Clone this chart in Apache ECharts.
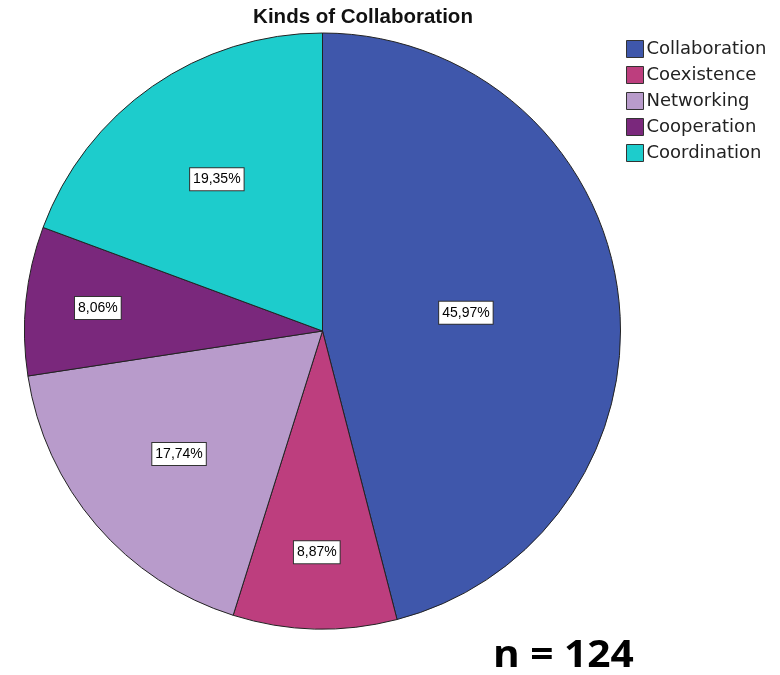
<!DOCTYPE html>
<html>
<head>
<meta charset="utf-8">
<title>Kinds of Collaboration</title>
<script src="https://cdn.jsdelivr.net/npm/echarts@6/dist/echarts.min.js"></script>
<style>
  html, body { margin: 0; padding: 0; background: #fff; }
  #main { width: 780px; height: 675px; }
</style>
</head>
<body>
<div id="main"></div>
<script>
// data (percent of n = 124)
const kinds = ['Collaboration', 'Coexistence', 'Networking', 'Cooperation', 'Coordination'];
const shares = [45.97, 8.87, 17.74, 8.06, 19.35];
const colors = ['#3f57ab', '#bd3e7e', '#b89bcb', '#7a287c', '#1dcccc'];

const R = 298;
const chart = echarts.init(document.getElementById('main'));

// SPSS pushes labels of small slices further out: fraction of radius from the share
function labelRadius(share) {
  return 1.0745 - 0.1566 * Math.log(share);
}

const total = shares.reduce((a, b) => a + b, 0);
let acc = 0;
const pieData = kinds.map((name, i) => {
  const mid = (acc + shares[i] / 2) / total * 2 * Math.PI; // clockwise from top
  acc += shares[i];
  const d = (labelRadius(shares[i]) - 0.5) * R; // 'inside' sits at R/2
  return {
    name: name,
    value: shares[i],
    itemStyle: { color: colors[i] },
    label: { offset: [d * Math.sin(mid), -d * Math.cos(mid)] }
  };
});

chart.setOption({
  animation: false,
  title: {
    text: 'Kinds of Collaboration',
    left: 363,
    top: 7,
    padding: 0,
    textAlign: 'center',
    textStyle: { fontFamily: 'Liberation Sans', fontSize: 20.5, fontWeight: 'bold', color: '#111' }
  },
  legend: {
    orient: 'vertical',
    left: 626,
    top: 40,
    padding: 0,
    itemWidth: 17,
    itemHeight: 17,
    itemGap: 8,
    icon: 'rect',
    selectedMode: false,
    data: kinds,
    itemStyle: { borderColor: '#333', borderWidth: 1 },
    textStyle: { fontFamily: 'DejaVu Sans', fontSize: 18, lineHeight: 17, color: '#222', padding: [0, 0, 0, -2] }
  },
  series: [{
    type: 'pie',
    center: [322.5, 331],
    radius: [0, R],
    startAngle: 90,
    clockwise: true,
    silent: true,
    itemStyle: { borderColor: '#222', borderWidth: 1 },
    label: {
      position: 'inside',
      formatter: p => p.value.toFixed(2).replace('.', ',') + '%',
      fontFamily: 'Liberation Sans',
      fontSize: 14,
      color: '#000',
      backgroundColor: '#fff',
      borderColor: '#333',
      borderWidth: 1,
      padding: [5, 3, 3, 3]
    },
    labelLine: { show: false },
    data: pieData
  }],
  graphic: [{
    type: 'text',
    x: 493,
    y: 656,
    scaleX: 1.07,
    style: { text: 'n = 124', font: 'bold 38px "Open Sans"', fill: '#000', align: 'left', verticalAlign: 'middle' }
  }]
});
</script>
</body>
</html>
